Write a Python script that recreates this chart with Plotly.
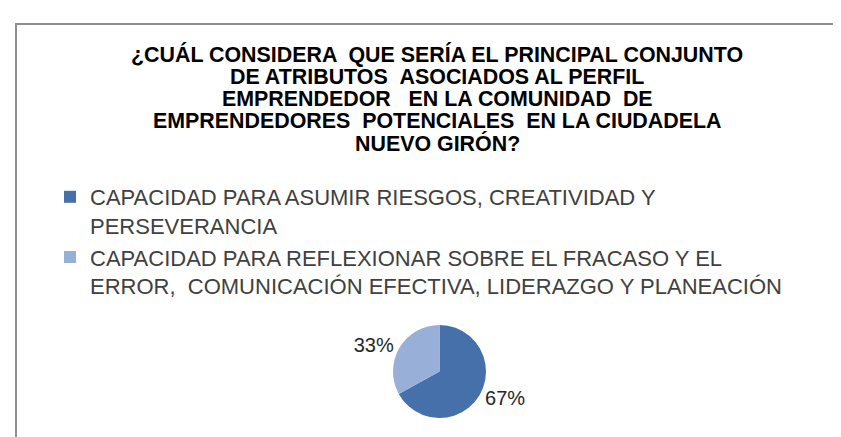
import plotly.graph_objects as go

labels = [
    "CAPACIDAD PARA ASUMIR RIESGOS, CREATIVIDAD Y<br>PERSEVERANCIA",
    "CAPACIDAD PARA REFLEXIONAR SOBRE EL FRACASO Y EL<br>ERROR,  COMUNICACIÓN EFECTIVA, LIDERAZGO Y PLANEACIÓN",
]
values = [67, 33]
colors = ["#4570a9", "#98afd7"]

title_lines = [
    "¿CUÁL CONSIDERA  QUE SERÍA EL PRINCIPAL CONJUNTO",
    "DE ATRIBUTOS  ASOCIADOS AL PERFIL",
    "EMPRENDEDOR   EN LA COMUNIDAD  DE",
    "EMPRENDEDORES  POTENCIALES  EN LA CIUDADELA",
    "NUEVO GIRÓN?",
]

W, H = 841, 437
font = "Liberation Sans, Arial, sans-serif"

fig = go.Figure(data=[go.Pie(labels=labels, values=values, sort=False,
                             direction="clockwise", rotation=0,
                             marker=dict(colors=colors),
                             textinfo="percent", textposition="outside",
                             texttemplate="%{percent:.0%}",
                             textfont=dict(family=font, size=20, color="#262626"),
                             domain=dict(x=[385 / W, 478 / W], y=[27 / H, 120 / H]))])

# title drawn line by line so the tight line spacing of the original can be kept
for i, line in enumerate(title_lines):
    fig.add_annotation(text=line.replace("  ", " &nbsp;"), showarrow=False,
                       xref="paper", yref="paper",
                       x=429 / W, y=1 - (47 + 22 * i) / H,
                       xanchor="center", yanchor="middle",
                       font=dict(family=font, size=21.4, color="black", weight="bold"))

fig.update_layout(width=W,
                  height=H,
                  margin=dict(l=0, r=0, t=0, b=0),
                  paper_bgcolor="white",
                  font=dict(family=font),
                  legend=dict(x=42 / W, y=1 - 168 / H, xanchor="left", yanchor="top",
                              valign="top", bgcolor="rgba(0,0,0,0)",
                              font=dict(family=font, size=22, color="#404040")),
                  shapes=[dict(type="rect", xref="paper", yref="paper",
                               x0=8 / W, x1=1.05, y0=-0.05, y1=1 - 16 / H,
                               line=dict(color="#8f8f8f", width=2))])

fig.write_html("out.html")
